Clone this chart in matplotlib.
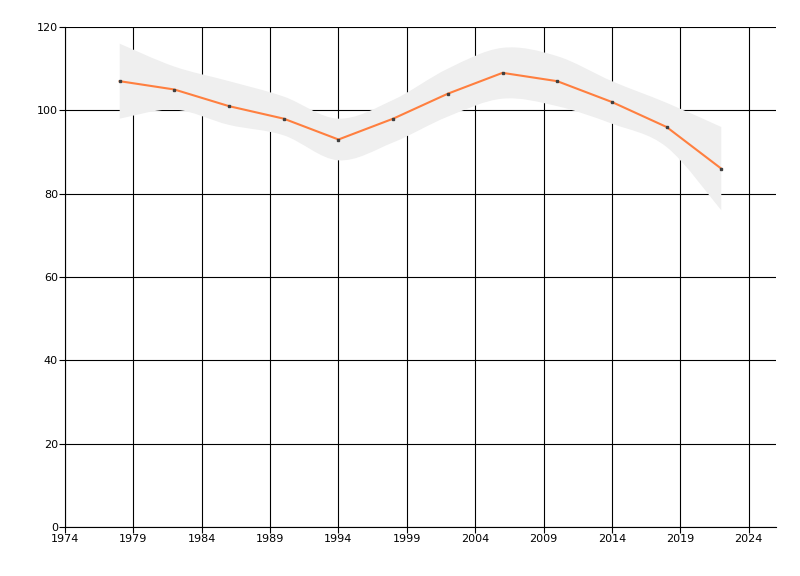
import numpy as np
import matplotlib
matplotlib.use("Agg")
import matplotlib.pyplot as plt
from matplotlib.path import Path
from matplotlib.patches import PathPatch

# Data
years = [1978, 1982, 1986, 1990, 1994, 1998, 2002, 2006, 2010, 2014, 2018, 2022]
values = [107, 105, 101, 98, 93, 98, 104, 109, 107, 102, 96, 86]
band_upper = [116, 110.5, 107, 103.3, 98, 102.5, 110, 115, 113, 107, 101.8, 96]
band_lower = [98, 100.2, 96.5, 94, 88, 92.3, 98.5, 102.8, 101, 96.8, 91.2, 76]

x_ticks = [1974, 1979, 1984, 1989, 1994, 1999, 2004, 2009, 2014, 2019, 2024]
y_ticks = [0, 20, 40, 60, 80, 100, 120]


def smooth_codes(xs, ys):
    # Catmull-Rom style bezier control points, drawn by matplotlib Path
    pts = list(zip(xs, ys))
    verts = [pts[0]]
    codes = []
    n = len(pts)
    for i in range(n - 1):
        p0 = pts[i - 1] if i > 0 else pts[i]
        p1 = pts[i]
        p2 = pts[i + 1]
        p3 = pts[i + 2] if i + 2 < n else pts[i + 1]
        c1 = (p1[0] + (p2[0] - p0[0]) / 6, p1[1] + (p2[1] - p0[1]) / 6)
        c2 = (p2[0] - (p3[0] - p1[0]) / 6, p2[1] - (p3[1] - p1[1]) / 6)
        verts += [c1, c2, p2]
        codes += [Path.CURVE4] * 3
    return verts, codes


up_v, up_c = smooth_codes(years, band_upper)
lo_v, lo_c = smooth_codes(years[::-1], band_lower[::-1])
verts = up_v + [lo_v[0]] + lo_v[1:] + [up_v[0]]
codes = [Path.MOVETO] + up_c + [Path.LINETO] + lo_c + [Path.CLOSEPOLY]

plt.rcParams["font.family"] = ["DejaVu Sans"]
fig = plt.figure(figsize=(8, 5.76), dpi=100)
ax = fig.add_axes([0.08125, 0.0851, 0.88875, 0.868])

ax.add_patch(PathPatch(Path(verts, codes), facecolor="#efefef", edgecolor="none", zorder=2))
ax.plot(years, values, color="#ff7f3f", linewidth=1.5, zorder=3)
ax.plot(years, values, linestyle="none", marker="s", markersize=1.8, color="#404040", zorder=4)

ax.set_xlim(1974, 2026)
ax.set_ylim(0, 120)
ax.set_xticks(x_ticks)
ax.set_yticks(y_ticks)
ax.grid(True, color="black", linewidth=0.8, zorder=1)
ax.set_axisbelow(True)
for s in ["top", "right"]:
    ax.spines[s].set_visible(False)
ax.spines["left"].set_linewidth(0.8)
ax.spines["bottom"].set_linewidth(0.8)
ax.tick_params(labelsize=8, length=4, width=0.8, pad=1)

fig.savefig("out.png", dpi=100)
